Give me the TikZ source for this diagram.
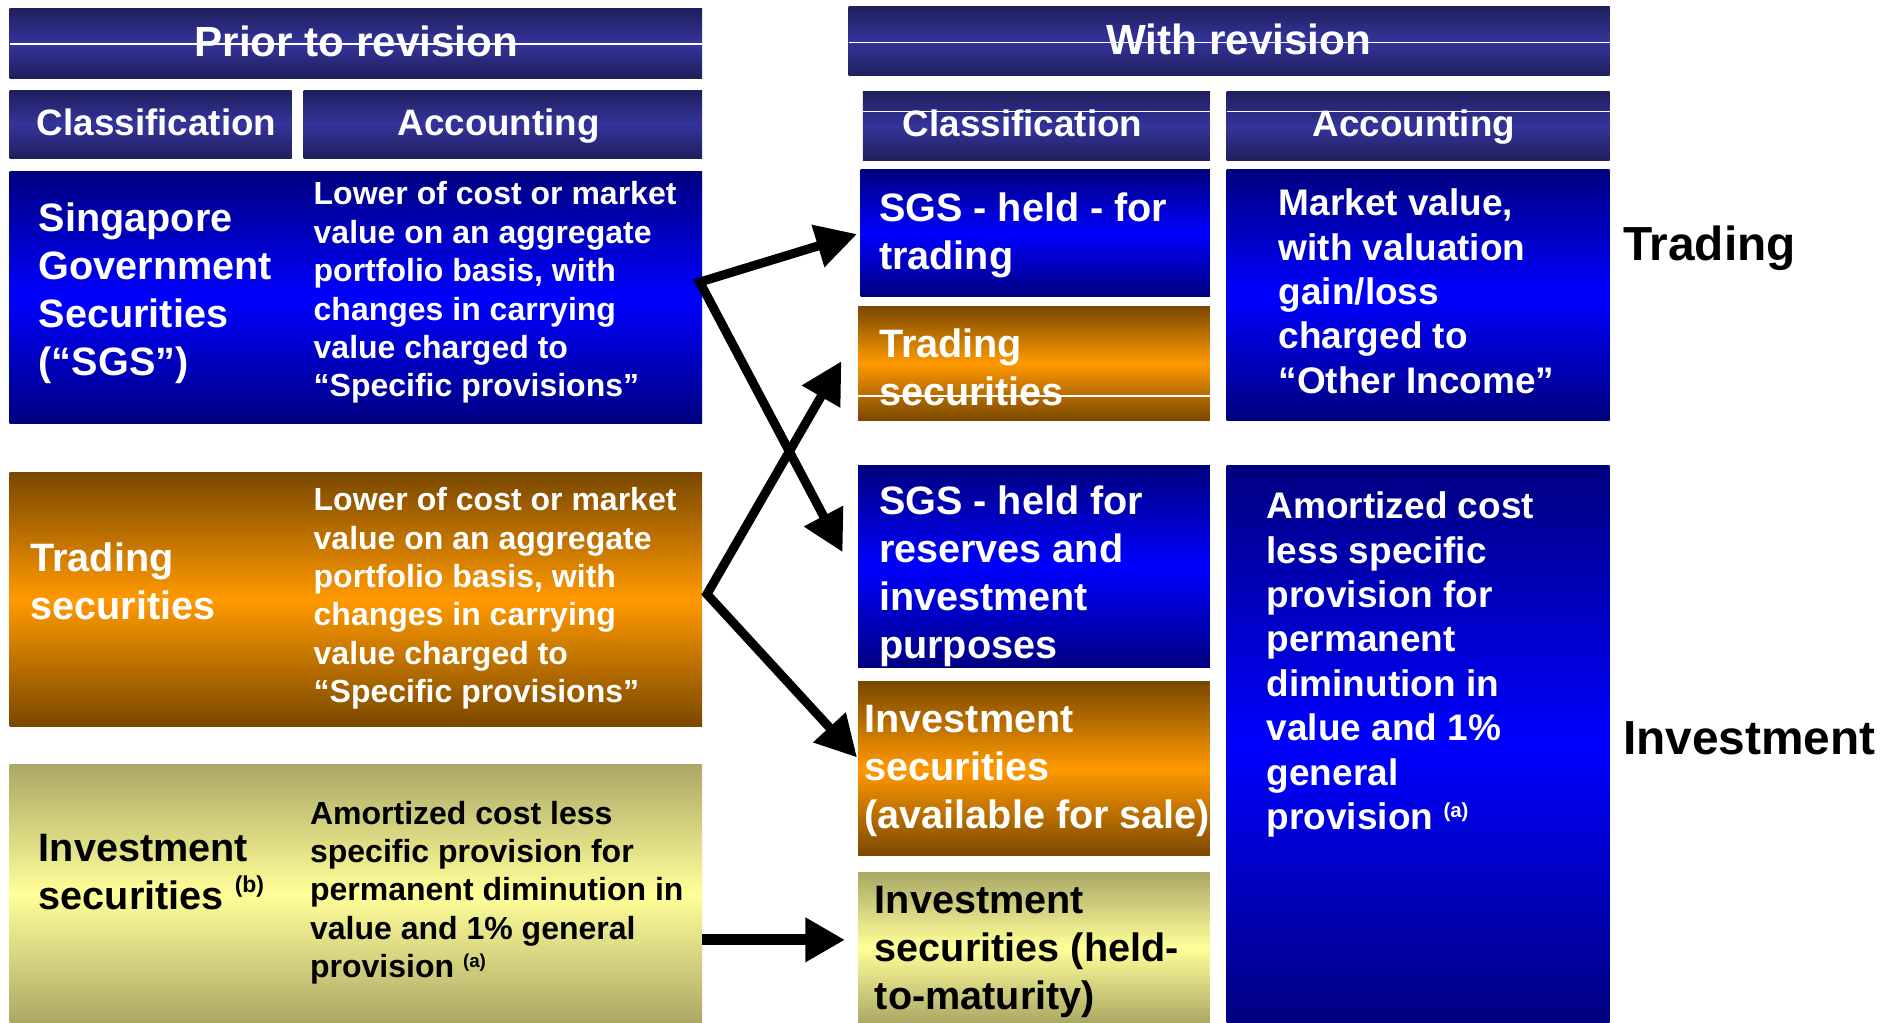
\documentclass[tikz,border=0pt]{standalone}
\usepackage{fontspec}
\setmainfont{Liberation Sans}
\usetikzlibrary{arrows.meta,calc,fit}

\definecolor{bandark}{HTML}{1F1F5C}
\definecolor{banmid}{HTML}{34349C}
\definecolor{navyedge}{HTML}{000080}
\definecolor{bluemid}{HTML}{0000FF}
\definecolor{brownedge}{HTML}{7A4800}
\definecolor{orangemid}{HTML}{FF9900}
\definecolor{khakiedge}{HTML}{ABA866}
\definecolor{khakimid}{HTML}{FFFF99}

% raised footnote markers
\newcommand\notemark[3]{\raisebox{#2}{\fontsize{#1}{#1}\selectfont(#3)}}

\tikzset{
  panel/.style={inner sep=0pt, outer sep=0pt, draw=none},
  bannerbox/.style={panel, top color=bandark, bottom color=bandark, middle color=banmid},
  bluebox/.style={panel, top color=navyedge, bottom color=navyedge, middle color=bluemid},
  orangebox/.style={panel, top color=brownedge, bottom color=brownedge, middle color=orangemid},
  khakibox/.style={panel, top color=khakiedge, bottom color=khakiedge, middle color=khakimid},
  sheen/.style={draw=white, line width=0.7pt},
  titletext/.style={text=white, anchor=base, inner sep=0pt,
    font=\bfseries\fontsize{21.1pt}{25pt}\selectfont},
  headtext/.style={text=white, anchor=base, inner sep=0pt,
    font=\bfseries\fontsize{18.4pt}{22pt}\selectfont},
  classtext/.style={text=white, anchor=north west, align=left, inner sep=0pt,
    font=\bfseries\fontsize{19.8pt}{24pt}\selectfont},
  notetext/.style={text=white, anchor=north west, align=left, inner sep=0pt,
    font=\bfseries\fontsize{16pt}{19.2pt}\selectfont},
  accttext/.style={text=white, anchor=north west, align=left, inner sep=0pt,
    font=\bfseries\fontsize{18.5pt}{22.2pt}\selectfont},
  sidelabel/.style={text=black, anchor=north west, inner sep=0pt,
    font=\bfseries\fontsize{23.9pt}{28pt}\selectfont},
  flowboth/.style={line width=4.5pt, line join=miter,
    {Triangle[length=20.4pt,width=21pt]}-{Triangle[length=20.4pt,width=21pt]}},
  flowone/.style={line width=5.4pt,
    -{Triangle[length=19.8pt,width=21pt]}}
}

\begin{document}
\begin{tikzpicture}[x=0.6pt, y=-0.6pt]
\useasboundingbox (0,0) rectangle (1568,852);

% ---- before the revision ----
\node[bannerbox, fit={(8,7) (585,65)}] (priorBan) {};
\node[bannerbox, fit={(8,75) (243,132)}] (clsL) {};
\node[bannerbox, fit={(253,75) (585,132)}] (accL) {};
\node[bluebox, fit={(8,143) (585,353)}] (sgsOld) {};
\node[orangebox, fit={(8,394) (585,605)}] (tsOld) {};
\node[khakibox, fit={(8,637) (585,852)}] (invOld) {};

% ---- after the revision ----
\node[bannerbox, fit={(707,5) (1341,63)}] (withBan) {};
\node[bannerbox, fit={(719,76) (1008,134)}] (clsR) {};
\node[bannerbox, fit={(1022,76) (1341,134)}] (accR) {};
\node[bluebox, fit={(717,141) (1008,247)}] (sgsT) {};
\node[orangebox, fit={(715,255) (1008,350)}] (tsR) {};
\node[bluebox, fit={(715,388) (1008,556)}] (sgsR) {};
\node[orangebox, fit={(715,568) (1008,713)}] (afsR) {};
\node[khakibox, fit={(715,727) (1008,852)}] (htmR) {};
\node[bluebox, fit={(1022,141) (1341,350)}] (mvR) {};
\node[bluebox, fit={(1022,388) (1341,852)}] (amR) {};

% thin highlight lines across some panels
\draw[sheen] ($(priorBan.west)+(0,0.7)$) -- ($(priorBan.east)+(0,0.7)$);
\draw[sheen] ($(withBan.west)+(0,1.5)$) -- ($(withBan.east)+(0,1.5)$);
\draw[sheen] ($(clsR.west)+(0,-12)$) -- ($(clsR.east)+(0,-12)$);
\draw[sheen] ($(accR.west)+(0,-12)$) -- ($(accR.east)+(0,-12)$);
\draw[sheen] ($(tsR.west)+(0,27.5)$) -- ($(tsR.east)+(0,27.5)$);

% headings
\node[titletext] (priorT) at (297,47.2) {Prior to revision};
\node[titletext] (withT) at (1032,45.8) {With revision};
\node[headtext] (clsLT) at (130.5,112.5) {Classification};
\node[headtext] (accLT) at (415.5,112.5) {Accounting};
\node[headtext] (clsRT) at (852,113.3) {Classification};
\node[headtext] (accRT) at (1178,113.3) {Accounting};

% left column texts
\node[classtext] (sgsOldC) at (32,169) {Singapore\\Government\\Securities\\(“SGS”)};
\node[notetext] (sgsOldA) at (261,151) {Lower of cost or market\\value on an aggregate\\portfolio basis, with\\changes in carrying\\value charged to\\“Specific provisions”};
\node[classtext] (tsOldC) at (25,452) {Trading\\securities};
\node[notetext] (tsOldA) at (261,405.8) {Lower of cost or market\\value on an aggregate\\portfolio basis, with\\changes in carrying\\value charged to\\“Specific provisions”};
\node[classtext, text=black] (invOldC) at (32,695) {Investment\\securities \notemark{11.5pt}{0.45em}{b}};
\node[notetext, text=black] (invOldA) at (258,666.9) {Amortized cost less\\specific provision for\\permanent diminution in\\value and 1\% general\\provision \notemark{9.4pt}{0.33em}{a}};

% right column texts
\node[classtext] (sgsTC) at (732,160) {SGS - held - for\\trading};
\node[classtext] (tsRC) at (732,273.5) {Trading\\securities};
\node[classtext] (sgsRC) at (732,404) {SGS - held for\\reserves and\\investment\\purposes};
\node[classtext] (afsRC) at (720,587) {Investment\\securities\\(available for sale)};
\node[classtext, text=black] (htmRC) at (728.6,738) {Investment\\securities (held-\\to-maturity)};
\node[accttext] (mvRA) at (1065,157) {Market value,\\with valuation\\gain/loss\\charged to\\“Other Income”};
\node[accttext] (amRA) at (1055,409.5) {Amortized cost\\less specific\\provision for\\permanent\\diminution in\\value and 1\%\\general\\provision \notemark{10.2pt}{0.33em}{a}};

% category labels
\node[sidelabel] (labTrading) at (1352,188) {Trading};
\node[sidelabel] (labInvest) at (1352,601) {Investment};

% reclassification arrows
\coordinate (jA) at (583,235);
\coordinate (jB) at (589,495);
\draw[flowboth] ($(sgsT.west)+(-3,1)$) -- (jA) -- ($(sgsR.west)+(-13,-12)$);
\draw[flowboth] ($(tsR.west)+(-14,-1.5)$) -- (jB) -- ($(afsR.west)+(-1,-9.5)$);
\draw[flowone] ($(invOld.east)+(0,38.5)$) -- ($(htmR.west)+(-11,-6.5)$);
\end{tikzpicture}
\end{document}
